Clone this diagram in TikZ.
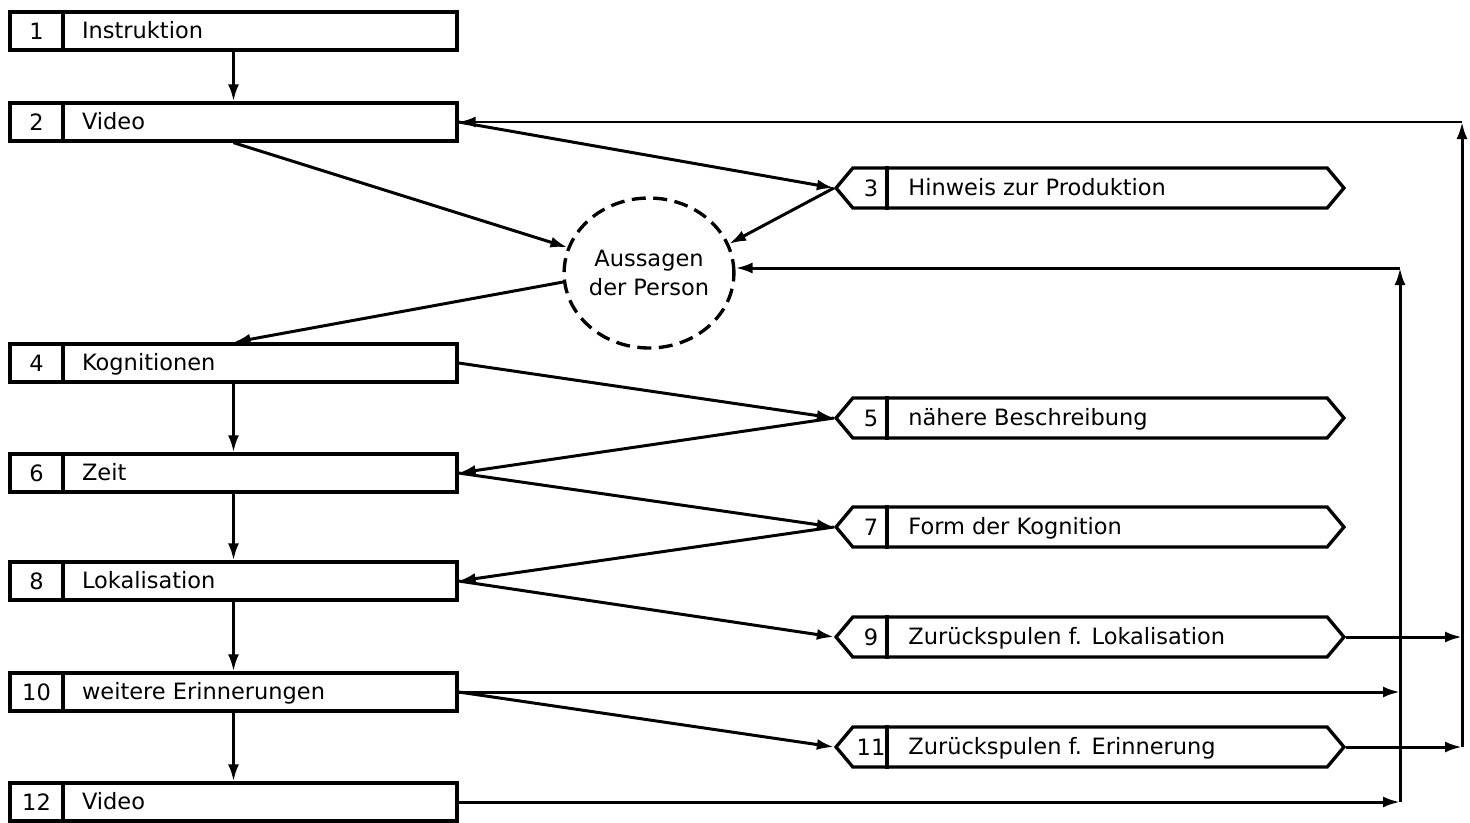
\documentclass[tikz,border=0pt]{standalone}
\usepackage{fontspec}
\setmainfont{DejaVu Sans}
\usetikzlibrary{shapes.symbols,shapes.geometric,arrows.meta}
\begin{document}
\begin{tikzpicture}[x=0.02cm, y=-0.02cm,
  every node/.style={font=\fontsize{12.8}{16}\selectfont},
  box/.style={draw, line width=1.9pt, minimum width=8.94cm, minimum height=0.76cm, inner sep=0pt},
  nr/.style={draw, line width=1.9pt, anchor=west, minimum width=1.06cm, minimum height=0.76cm, inner sep=0pt},
  lab/.style={anchor=base west, inner sep=0pt},
  hint/.style={draw, line width=1.9pt, signal, signal to=east and west, signal pointer angle=100, minimum width=10.16cm, minimum height=0.8cm, inner sep=0pt},
  hnr/.style={minimum width=0.6cm, inner sep=0pt},
  aus/.style={draw, line width=1.9pt, dash pattern=on 0.28cm off 0.15cm, ellipse, minimum width=3.36cm, minimum height=3cm, align=center, inner sep=0pt},
  ln/.style={line width=1.9pt},
  arr/.style={line width=1.7pt, -{Latex[length=0.34cm,width=0.22cm]}}]
\useasboundingbox (0,0) rectangle (1470,822);
% linke Spalte
\node[box] (b1) at (233.5,31) {};
\node[nr] (n1) at (b1.west) {1};
\node[lab] (t1) at ([xshift=0.34cm,yshift=-0.14cm]n1.east) {Instruktion};
\node[box] (b2) at (233.5,122) {};
\node[nr] (n2) at (b2.west) {2};
\node[lab] (t2) at ([xshift=0.34cm,yshift=-0.14cm]n2.east) {Video};
\node[box] (b4) at (233.5,363) {};
\node[nr] (n4) at (b4.west) {4};
\node[lab] (t4) at ([xshift=0.34cm,yshift=-0.14cm]n4.east) {Kognitionen};
\node[box] (b6) at (233.5,473) {};
\node[nr] (n6) at (b6.west) {6};
\node[lab] (t6) at ([xshift=0.34cm,yshift=-0.14cm]n6.east) {Zeit};
\node[box] (b8) at (233.5,581) {};
\node[nr] (n8) at (b8.west) {8};
\node[lab] (t8) at ([xshift=0.34cm,yshift=-0.14cm]n8.east) {Lokalisation};
\node[box] (b10) at (233.5,692) {};
\node[nr] (n10) at (b10.west) {10};
\node[lab] (t10) at ([xshift=0.34cm,yshift=-0.14cm]n10.east) {weitere Erinnerungen};
\node[box] (b12) at (233.5,802) {};
\node[nr] (n12) at (b12.west) {12};
\node[lab] (t12) at ([xshift=0.34cm,yshift=-0.14cm]n12.east) {Video};
% Aussagen
\node[aus] (aus) at (649,273) {Aussagen\\der Person};
% rechte Spalte
\node[hint] (h3) at (1090,188) {};
\node[hnr] (m3) at (871,188) {3};
\draw[ln] ([xshift=0.32cm]m3.center |- h3.north) -- ([xshift=0.32cm]m3.center |- h3.south);
\node[lab] (u3) at ([xshift=0.74cm,yshift=-0.14cm]m3.center) {Hinweis zur Produktion};
\node[hint] (h5) at (1090,418) {};
\node[hnr] (m5) at (871,418) {5};
\draw[ln] ([xshift=0.32cm]m5.center |- h5.north) -- ([xshift=0.32cm]m5.center |- h5.south);
\node[lab] (u5) at ([xshift=0.74cm,yshift=-0.14cm]m5.center) {nähere Beschreibung};
\node[hint] (h7) at (1090,527) {};
\node[hnr] (m7) at (871,527) {7};
\draw[ln] ([xshift=0.32cm]m7.center |- h7.north) -- ([xshift=0.32cm]m7.center |- h7.south);
\node[lab] (u7) at ([xshift=0.74cm,yshift=-0.14cm]m7.center) {Form der Kognition};
\node[hint] (h9) at (1090,637) {};
\node[hnr] (m9) at (871,637) {9};
\draw[ln] ([xshift=0.32cm]m9.center |- h9.north) -- ([xshift=0.32cm]m9.center |- h9.south);
\node[lab] (u9) at ([xshift=0.74cm,yshift=-0.14cm]m9.center) {Zurückspulen f. Lokalisation};
\node[hint] (h11) at (1090,747) {};
\node[hnr] (m11) at (871,747) {11};
\draw[ln] ([xshift=0.32cm]m11.center |- h11.north) -- ([xshift=0.32cm]m11.center |- h11.south);
\node[lab] (u11) at ([xshift=0.74cm,yshift=-0.14cm]m11.center) {Zurückspulen f. Erinnerung};
\coordinate (c1) at (1400,268);
\coordinate (c2) at (1462,122);
% Pfeile
\draw[arr] (b1.south) -- (b2.north);
\draw[arr] (b2.east) -- (h3.west);
\draw[arr] (b2.south) -- (aus);
\draw[arr] (h3.west) -- (aus.20);
\draw[arr] (aus.186) -- (b4.north);
\draw[arr] (b4.east) -- (h5.west);
\draw[arr] (h5.west) -- (b6.east);
\draw[arr] (b4.south) -- (b6.north);
\draw[arr] (b6.east) -- (h7.west);
\draw[arr] (h7.west) -- (b8.east);
\draw[arr] (b6.south) -- (b8.north);
\draw[arr] (b8.east) -- (h9.west);
\draw[arr] (b8.south) -- (b10.north);
\draw[arr] (b10.east) -- (h11.west);
\draw[arr] (b10.south) -- (b12.north);
\draw[arr] (b10.east) -- (b10.east -| c1);
\draw[arr] (b12.east) -- (b12.east -| c1);
\draw[arr] (b12.east -| c1) -- (c1);
\draw[arr] (c1) -- (c1 -| aus.east);
\draw[arr] (h9.east) -- (h9.east -| c2);
\draw[arr] (h11.east) -- (h11.east -| c2);
\draw[arr] (h11.east -| c2) -- (c2);
\draw[arr] (c2) -- (b2.east);
\end{tikzpicture}
\end{document}
